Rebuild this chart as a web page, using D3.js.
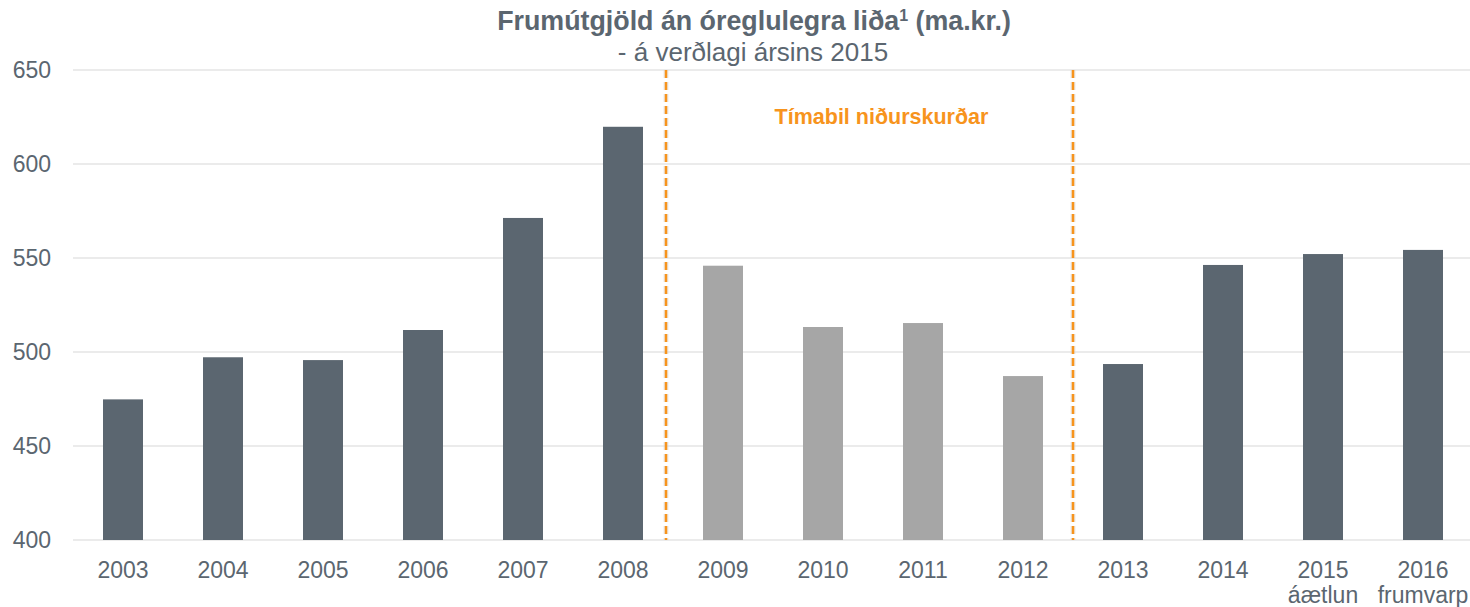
<!DOCTYPE html>
<html><head><meta charset="utf-8">
<script src="https://cdn.jsdelivr.net/npm/d3@7"></script>
<style>body{margin:0;background:#fff;} svg{display:block;}</style>
</head><body>
<svg id="c" width="1470" height="607"></svg>
<script>
const categories = ["2003","2004","2005","2006","2007","2008","2009","2010","2011","2012","2013","2014","2015","2016"];
const subLabels = ["","","","","","","","","","","","","áætlun","frumvarp"];
const values = [474.8,497.2,495.7,511.7,571.3,619.8,545.9,513.3,515.4,487.2,493.6,546.3,552.1,554.3];
const cutPeriod = ["2009","2010","2011","2012"];
const yTicks = [400,450,500,550,600,650];
const dividerPositions = [5.93, 10.0]; // in category-index units
const titleText = "Frumútgjöld án óreglulegra liða";
const subtitleText = "- á verðlagi ársins 2015";
const annotationText = "Tímabil niðurskurðar";

(function(){
const svg = d3.select("#c");
const font = "'Liberation Sans', Arial, sans-serif";
const textColor = "#5b6670";
const mLeft = 73, mRight = 1473, mTop = 70, mBottom = 540;

const x = d3.scaleBand().domain(categories).range([mLeft, mRight]).paddingInner(0.6).paddingOuter(0.3);
const xIdx = d3.scaleLinear().domain([0, categories.length]).range([mLeft, mRight]);
const y = d3.scaleLinear().domain([400, 650]).range([mBottom, mTop]);

// gridlines
svg.append("g").selectAll("line").data(yTicks).join("line")
  .attr("x1", mLeft).attr("x2", 1470)
  .attr("y1", d => y(d)).attr("y2", d => y(d))
  .attr("stroke", "#e4e4e4").attr("stroke-width", 1.5);

// y axis labels
const yAxis = d3.axisLeft(y).tickValues(yTicks).tickSize(0).tickPadding(0);
const gy = svg.append("g").attr("transform", `translate(51,0)`).call(yAxis);
gy.select(".domain").remove();
gy.selectAll("text").attr("font-family", font).attr("font-size", 23).attr("fill", textColor);

// bars
svg.append("g").selectAll("rect").data(categories).join("rect")
  .attr("x", d => x(d)).attr("width", x.bandwidth())
  .attr("y", (d,i) => y(values[i])).attr("height", (d,i) => y(400) - y(values[i]))
  .attr("fill", d => cutPeriod.includes(d) ? "#a6a6a6" : "#5b6670");

// x axis labels
const xAxis = d3.axisBottom(x).tickSize(0).tickPadding(0);
const gx = svg.append("g").attr("transform", `translate(0,${mBottom})`).call(xAxis);
gx.select(".domain").remove();
gx.selectAll("text").attr("font-family", font).attr("font-size", 23).attr("fill", textColor)
  .attr("dy", null).attr("y", 38);
gx.selectAll(".tick").append("text")
  .attr("y", 63).attr("text-anchor", "middle")
  .attr("font-family", font).attr("font-size", 23).attr("fill", textColor)
  .text(d => subLabels[categories.indexOf(d)]);

// dividers
const dg = svg.append("g");
dividerPositions.forEach(p => {
  dg.append("line").attr("x1", xIdx(p)).attr("x2", xIdx(p)).attr("y1", mTop).attr("y2", mBottom)
    .attr("stroke", "#d8d8d8").attr("stroke-width", 5).attr("stroke-opacity", 0.5).attr("stroke-dasharray", "8,4");
  dg.append("line").attr("x1", xIdx(p)).attr("x2", xIdx(p)).attr("y1", mTop).attr("y2", mBottom)
    .attr("stroke", "#f7941d").attr("stroke-width", 2.5).attr("stroke-dasharray", "8,4");
});

// annotation
svg.append("text").attr("x", (xIdx(dividerPositions[0]) + xIdx(dividerPositions[1])) / 2 + 12).attr("y", 124)
  .attr("text-anchor", "middle").attr("font-family", font).attr("font-size", 21.5).attr("font-weight", "bold")
  .attr("fill", "#f7941d").text(annotationText);

// title
const t = svg.append("text").attr("x", 754).attr("y", 30).attr("text-anchor", "middle")
  .attr("font-family", font).attr("font-size", 26.8).attr("font-weight", "bold").attr("fill", textColor);
t.append("tspan").text(titleText);
t.append("tspan").attr("font-size", 16).attr("dy", -9).text("1");
t.append("tspan").attr("dy", 9).text(" (ma.kr.)");
svg.append("text").attr("x", 753).attr("y", 61).attr("text-anchor", "middle")
  .attr("font-family", font).attr("font-size", 26).attr("fill", textColor).text(subtitleText);
})();
</script>
</body></html>
